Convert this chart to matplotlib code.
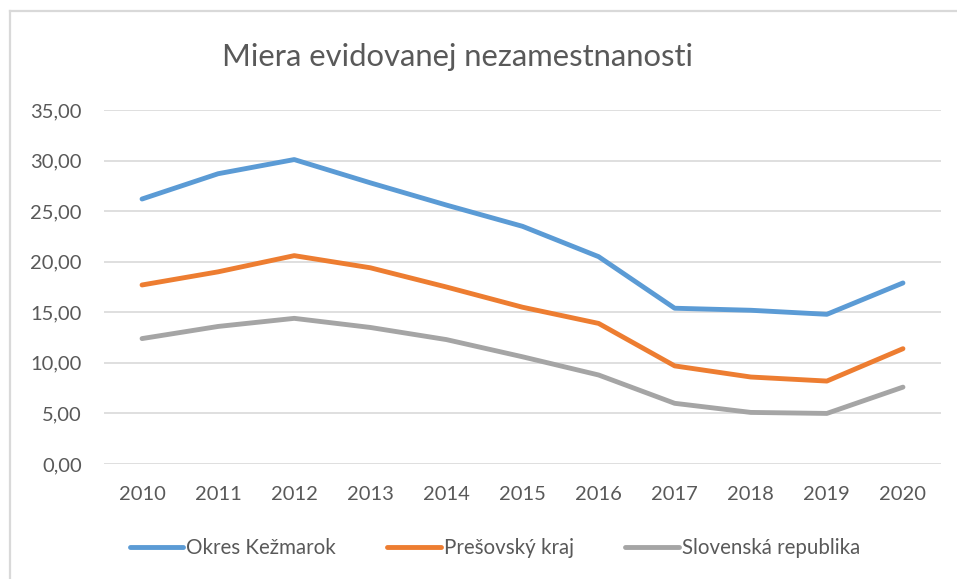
import matplotlib
matplotlib.use("Agg")
import matplotlib.pyplot as plt
from matplotlib.lines import Line2D

# Data
years = ["2010", "2011", "2012", "2013", "2014", "2015", "2016", "2017", "2018", "2019", "2020"]
kezmarok = [26.2, 28.7, 30.1, 27.8, 25.6, 23.5, 20.5, 15.4, 15.2, 14.8, 17.9]
presov = [17.7, 19.0, 20.6, 19.4, 17.5, 15.5, 13.9, 9.7, 8.6, 8.2, 11.4]
slovensko = [12.4, 13.6, 14.4, 13.5, 12.3, 10.6, 8.8, 6.0, 5.1, 5.0, 7.6]
series_names = ["Okres Kežmarok", "Prešovský kraj", "Slovenská republika"]
y_ticks = [0, 5, 10, 15, 20, 25, 30, 35]

colors = ["#5B9BD5", "#ED7D31", "#A5A5A5"]
text_col = "#595959"
W, H = 957, 579

plt.rcParams['font.family'] = ['Lato', 'DejaVu Sans']

fig = plt.figure(figsize=(W / 100, H / 100), dpi=100)
ax = fig.add_axes([104 / W, 1 - 464 / H, (941 - 104) / W, (464 - 110) / H])

x = list(range(len(years)))
for vals, col, name in zip([kezmarok, presov, slovensko], colors, series_names):
    ax.plot(x, vals, color=col, lw=3.5, label=name, solid_capstyle='round', solid_joinstyle='round')

ax.set_xlim(-0.5, len(years) - 0.5)
ax.set_ylim(0, 35)
ax.set_yticks(y_ticks)
ax.set_yticklabels([("%.2f" % v).replace(".", ",") for v in y_ticks])
ax.set_xticks(x)
ax.set_xticklabels(years)
ax.tick_params(axis='both', length=0, labelsize=14.5, colors=text_col)
ax.tick_params(axis='y', pad=16)
ax.tick_params(axis='x', pad=16)
ax.grid(axis='y', color="#D9D9D9", lw=1.2)
ax.set_axisbelow(True)
for s in ax.spines.values():
    s.set_visible(False)

fig.text(458 / W, 1 - 57 / H, "Miera evidovanej nezamestnanosti", ha='center', va='center',
         fontsize=22.3, color=text_col)

fig.legend(loc='center', bbox_to_anchor=(495 / W, 1 - 548 / H), ncol=3, frameon=False,
           fontsize=14.8, labelcolor=text_col, handlelength=2.6, handletextpad=0.15,
           columnspacing=2.5)

# chart frame (left and top edges visible)
fig.add_artist(Line2D([10 / W, 10 / W], [0, 1 - 11 / H], color="#D9D9D9", lw=1.6))
fig.add_artist(Line2D([10 / W, 1], [1 - 11 / H, 1 - 11 / H], color="#D9D9D9", lw=1.6))

fig.savefig("out.png", dpi=100)
